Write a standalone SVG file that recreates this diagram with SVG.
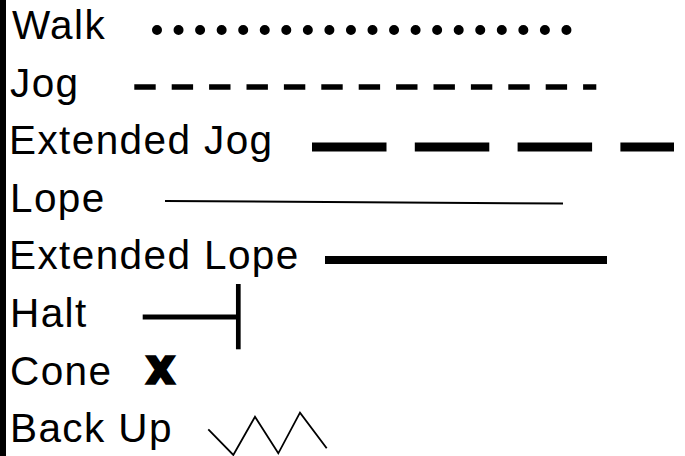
<svg xmlns="http://www.w3.org/2000/svg" width="685" height="456" viewBox="0 0 685 456">
<style>
  .lbl { font-family: "Liberation Sans", Arial, sans-serif; font-size: 40.5px; letter-spacing: 1.4px; fill: #000; }
  .ln { fill: none; stroke: #000; }
</style>
<rect x="0" y="0" width="685" height="456" fill="#fff"/>
<rect id="left-bar" x="0" y="0" width="6" height="456" fill="#000"/>
<g id="walk">
  <text class="lbl" x="12" y="39">Walk</text>
  <line class="ln" x1="157" y1="30" x2="568" y2="30" stroke-width="10" stroke-linecap="round" stroke-dasharray="0 21.55"/>
</g>
<g id="jog">
  <text class="lbl" x="10" y="96.6">Jog</text>
  <line class="ln" x1="134.3" y1="87" x2="596.3" y2="87" stroke-width="5.5" stroke-dasharray="21.4 16"/>
</g>
<g id="extended-jog">
  <text class="lbl" x="9" y="154.2">Extended Jog</text>
  <line class="ln" x1="312" y1="147" x2="674" y2="147" stroke-width="9" stroke-dasharray="74.5 28.3"/>
</g>
<g id="lope">
  <text class="lbl" x="10" y="211.8">Lope</text>
  <line class="ln" x1="165" y1="201" x2="563" y2="203.5" stroke-width="2"/>
</g>
<g id="extended-lope">
  <text class="lbl" x="9" y="269.4">Extended Lope</text>
  <line class="ln" x1="325" y1="260" x2="607" y2="260" stroke-width="8"/>
</g>
<g id="halt">
  <text class="lbl" x="10" y="327">Halt</text>
  <line class="ln" x1="142.7" y1="317" x2="238" y2="317" stroke-width="5"/>
  <line class="ln" x1="238.3" y1="284" x2="238.3" y2="349.3" stroke-width="4.7"/>
</g>
<g id="cone">
  <text class="lbl" x="10" y="384.6">Cone</text>
  <text x="147" y="382.5" font-family="DejaVu Sans, sans-serif" font-weight="bold" font-size="35" fill="#000" stroke="#000" stroke-width="3.5" stroke-linejoin="miter">X</text>
</g>
<g id="back-up">
  <text class="lbl" x="10" y="442.2">Back Up</text>
  <polyline class="ln" points="208.3,429.3 233.3,455 255,416.7 278.3,453.3 300,412.7 326.7,448.3" stroke-width="1.8"/>
</g>
</svg>
